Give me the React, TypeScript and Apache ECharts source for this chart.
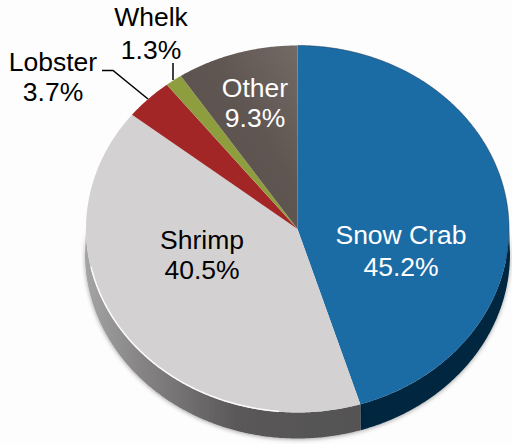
import React, { useEffect, useRef } from "react";
import * as echarts from "echarts";

const categories = ["Snow Crab", "Shrimp", "Lobster", "Whelk", "Other"];
const shares = [45.2, 40.5, 3.7, 1.3, 9.3];

const topColors: any[] = [
  "#1b6ca5",
  "#d3d1d2",
  "#a32627",
  "#8e9e3f",
  { type: "linear", x: 0, y: 1, x2: 1, y2: 0, colorStops: [{ offset: 0, color: "#5a4f4c" }, { offset: 0.6, color: "#5f5551" }, { offset: 1, color: "#736965" }] },
];
const labelColors = ["#ffffff", "#000000", "#000000", "#000000", "#ffffff"];
const labelCentres = [[401, 251], [202, 255], [53, 77], [151, 33.5], [255, 103]];
const labelLineHeights = [32, 30, 30.5, 33, 30];
const leaders: (number[][] | null)[] = [null, null, [[102, 70.5], [113, 70.5], [148, 99]], [[173, 63], [173, 80]], null];

const CX = 297.5, CY = 229, RX = 211.5, RY = 183.5, DEPTH = 25;
const TOTAL = shares.reduce((a, b) => a + b, 0);
const FONT = '"Liberation Sans", Arial, sans-serif';

const pt = (deg: number, dy = 0, dr = 0) => {
  const t = (deg * Math.PI) / 180;
  return [CX + (RX + dr) * Math.sin(t), CY - (RY + dr) * Math.cos(t) + dy];
};
const arc = (a: number, b: number, dy = 0, dr = 0) => {
  const n = Math.max(2, Math.ceil(Math.abs(b - a) * 2));
  const out: number[][] = [];
  for (let i = 0; i <= n; i++) out.push(pt(a + ((b - a) * i) / n, dy, dr));
  return out;
};
const startAngle = (i: number) => (shares.slice(0, i).reduce((a, b) => a + b, 0) / TOTAL) * 360;

const rimFill = (i: number): any =>
  i === 0
    ? "#04263f"
    : {
        type: "linear", x: 86, y: 0, x2: 360, y2: 0, global: true,
        colorStops: [
          { offset: 0, color: "#a4a4a4" },
          { offset: 0.2, color: "#868484" },
          { offset: 0.55, color: "#5a5858" },
          { offset: 1, color: "#555353" },
        ],
      };

export default function App() {
  const ref = useRef<HTMLDivElement>(null);
  useEffect(() => {
    document.body.style.margin = "0";
    document.body.style.background = "#fdfdfd";
    const chart = echarts.init(ref.current!, undefined, { renderer: "svg" });
    const data = categories.map((name, i) => ({ name, value: shares[i] }));
    chart.setOption({
      animation: false,
      backgroundColor: "#fdfdfd",
      series: [
        {
          type: "custom",
          coordinateSystem: "none",
          silent: true,
          data,
          z: 1,
          renderItem: (p: any, api: any) => {
            const i = p.dataIndex;
            const a = startAngle(i);
            const b = a + (api.value(0) / TOTAL) * 360;
            const lo = Math.max(a, 90), hi = Math.min(b, 270);
            if (hi <= lo) return { type: "group", children: [] };
            return {
              type: "polygon",
              shape: { points: [...arc(lo, hi), ...arc(hi, lo, DEPTH, 1)] },
              style: { fill: rimFill(i), shadowBlur: 4, shadowColor: "rgba(0,0,0,0.35)", shadowOffsetY: 1 },
            };
          },
        },
        {
          type: "custom",
          coordinateSystem: "none",
          silent: true,
          data,
          z: 2,
          renderItem: (p: any, api: any) => {
            const i = p.dataIndex;
            const a = startAngle(i);
            const b = a + (api.value(0) / TOTAL) * 360;
            const children: any[] = [
              { type: "polygon", shape: { points: [[CX, CY], ...arc(a, b)] }, style: { fill: topColors[i] } },
            ];
            if (i === 0) {
              children.push({ type: "polyline", shape: { points: arc(a, 100) }, style: { fill: "none", stroke: "rgba(10,40,70,0.45)", lineWidth: 1 } });
            }
            if (i === 1) {
              children.push({ type: "polyline", shape: { points: arc(185, 258, 0, -0.5) }, style: { fill: "none", stroke: "rgba(255,255,255,0.9)", lineWidth: 1.5 } });
            }
            return { type: "group", children };
          },
        },
        {
          type: "custom",
          coordinateSystem: "none",
          silent: true,
          data,
          z: 3,
          renderItem: (p: any, api: any) => {
            const i = p.dataIndex;
            const children: any[] = [
              {
                type: "text",
                style: {
                  x: labelCentres[i][0],
                  y: labelCentres[i][1],
                  text: `${categories[i]}\n${api.value(0).toFixed(1)}%`,
                  fill: labelColors[i],
                  font: `26.5px ${FONT}`,
                  lineHeight: labelLineHeights[i],
                  align: "center",
                  verticalAlign: "middle",
                },
              },
            ];
            const l = leaders[i];
            if (l) children.push({ type: "polyline", shape: { points: l }, style: { fill: "none", stroke: "#000", lineWidth: 1.5 } });
            return { type: "group", children };
          },
        },
      ],
    });
    return () => chart.dispose();
  }, []);
  return <div ref={ref} style={{ width: 512, height: 444 }} />;
}
